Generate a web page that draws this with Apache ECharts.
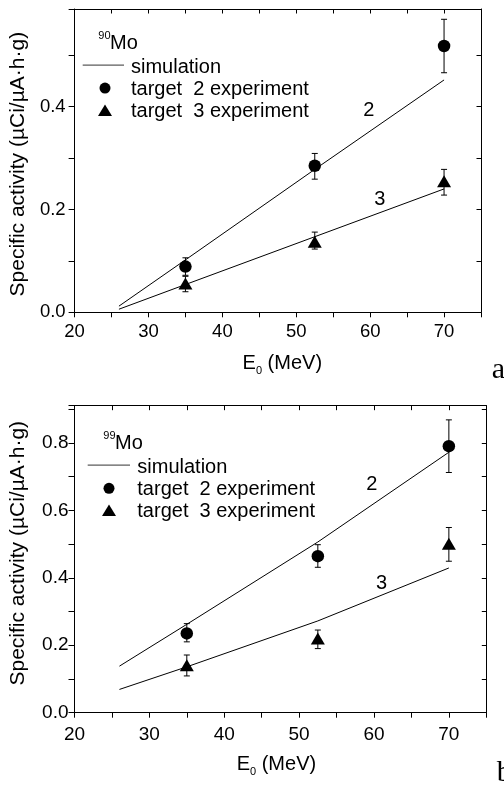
<!DOCTYPE html>
<html><head><meta charset="utf-8">
<script src="https://cdn.jsdelivr.net/npm/echarts@6/dist/echarts.min.js"></script>
<style>html,body{margin:0;padding:0;background:#fff}#c{width:504px;height:787px}</style>
</head><body><div id="c"></div>
<script>
// ---------- data ----------
const energies = [35, 52.5, 70];
const simEnergies = [26, 35, 52.5, 70];
// Panel a (90Mo)
const a_t2 = [0.089, 0.285, 0.518];
const a_t2_lo = [0.072, 0.259, 0.466];
const a_t2_hi = [0.106, 0.309, 0.570];
const a_t3 = [0.056, 0.137, 0.255];
const a_t3_lo = [0.040, 0.123, 0.228];
const a_t3_hi = [0.070, 0.156, 0.278];
const a_sim2 = [0.012, 0.102, 0.278, 0.452];
const a_sim3 = [0.006, 0.054, 0.147, 0.240];
// Panel b (99Mo)
const b_t2 = [0.235, 0.464, 0.790];
const b_t2_lo = [0.210, 0.431, 0.712];
const b_t2_hi = [0.264, 0.498, 0.868];
const b_t3 = [0.141, 0.220, 0.501];
const b_t3_lo = [0.109, 0.190, 0.449];
const b_t3_hi = [0.171, 0.245, 0.549];
const b_sim2 = [0.138, 0.262, 0.506, 0.772];
const b_sim3 = [0.069, 0.136, 0.272, 0.429];
// axis ticks
const xLabelTicks = [20, 30, 40, 50, 60, 70];
const yLabelStep = 0.2;
// curve labels and their anchor (data coords)
const curveLabels = ['2', '3'];
const a_labelPos = [[59.8, 0.392], [61.3, 0.220]];
const b_labelPos = [[59.7, 0.677], [61.0, 0.384]];
const legendTexts = ['simulation', 'target  2 experiment', 'target  3 experiment'];

// ---------- chart ----------
const FONT = '"Liberation Sans", Arial, Helvetica, sans-serif';
const chart = echarts.init(document.getElementById('c'), null, {renderer: 'canvas'});

function xAxes(gi, fs, margin, nameGap, namePad) {
  return [
    {gridIndex: gi, type: 'value', position: 'bottom', min: 20, max: 75, interval: 5,
     axisLine: {show: true, onZero: false, lineStyle: {color: '#000', width: 1}},
     axisTick: {show: true, inside: false, length: 5, lineStyle: {color: '#000'}},
     splitLine: {show: false},
     axisLabel: {show: true, margin: margin, color: '#000', fontSize: fs, fontFamily: FONT,
       formatter: v => xLabelTicks.indexOf(v) >= 0 ? String(v) : ''},
     name: '{n|E}{s|0}{n| (MeV)}', nameLocation: 'middle', nameGap: nameGap,
     nameTextStyle: {padding: namePad, rich: {
       n: {fontSize: 20, fontFamily: FONT, color: '#000', padding: [0, 0, 3, 0], verticalAlign: 'bottom'},
       s: {fontSize: 11, fontFamily: FONT, color: '#000', verticalAlign: 'bottom'}}}},
    {gridIndex: gi, type: 'value', position: 'top', min: 20, max: 75, interval: 5,
     axisLine: {show: true, onZero: false, lineStyle: {color: '#000', width: 1}},
     axisTick: {show: true, inside: true, length: 4.5, lineStyle: {color: '#000'}},
     splitLine: {show: false}, axisLabel: {show: false}}
  ];
}
function yAxes(gi, ymax, fs, margin, nameGap, namePad) {
  return [
    {gridIndex: gi, type: 'value', position: 'left', min: 0, max: ymax, interval: 0.1,
     axisLine: {show: true, onZero: false, lineStyle: {color: '#000', width: 1}},
     axisTick: {show: true, inside: false, length: 6, lineStyle: {color: '#000'}},
     splitLine: {show: false},
     axisLabel: {show: true, margin: margin, color: '#000', fontSize: fs, fontFamily: FONT,
       formatter: v => {const k = v / yLabelStep; return Math.abs(k - Math.round(k)) < 1e-6 ? v.toFixed(1) : '';}},
     name: 'Specific activity (µCi/µA·h·g)', nameLocation: 'middle', nameRotate: 90, nameGap: nameGap,
     nameTextStyle: {fontSize: 21, fontFamily: FONT, color: '#000', padding: namePad}},
    {gridIndex: gi, type: 'value', position: 'right', min: 0, max: ymax, interval: 0.1,
     axisLine: {show: true, onZero: false, lineStyle: {color: '#000', width: 1}},
     axisTick: {show: true, inside: true, length: 4.5, lineStyle: {color: '#000'}},
     splitLine: {show: false}, axisLabel: {show: false}}
  ];
}

function errSeries(xi, yi, xs, lo, hi) {
  return {type: 'custom', xAxisIndex: xi, yAxisIndex: yi, silent: true, z: 2,
    encode: {x: 0, y: [1, 2]},
    data: xs.map((x, i) => [x, lo[i], hi[i]]),
    renderItem(params, api) {
      const p1 = api.coord([api.value(0), api.value(1)]);
      const p2 = api.coord([api.value(0), api.value(2)]);
      const w = 3;
      const st = {stroke: '#000', lineWidth: 1, fill: null};
      return {type: 'group', children: [
        {type: 'line', shape: {x1: p1[0], y1: p1[1], x2: p2[0], y2: p2[1]}, style: st},
        {type: 'line', shape: {x1: p1[0] - w, y1: p1[1], x2: p1[0] + w, y2: p1[1]}, style: st},
        {type: 'line', shape: {x1: p2[0] - w, y1: p2[1], x2: p2[0] + w, y2: p2[1]}, style: st}
      ]};
    }};
}
function pts(xi, yi, xs, ys, symbol, size) {
  return {type: 'scatter', xAxisIndex: xi, yAxisIndex: yi, symbol: symbol, symbolSize: size, z: 3,
    itemStyle: {color: '#000', opacity: 1}, data: xs.map((x, i) => [x, ys[i]])};
}
function simLine(xi, yi, ys) {
  return {type: 'line', xAxisIndex: xi, yAxisIndex: yi, showSymbol: false, symbol: 'none', z: 1,
    lineStyle: {color: '#000', width: 1}, data: simEnergies.map((x, i) => [x, ys[i]])};
}
function curveLabelSeries(xi, yi, pos) {
  return {type: 'custom', xAxisIndex: xi, yAxisIndex: yi, silent: true, z: 4,
    encode: {x: 0, y: 1},
    data: pos.map(p => p.slice()),
    renderItem(params, api) {
      const p = api.coord([api.value(0), api.value(1)]);
      return {type: 'text', x: p[0], y: p[1], style: {text: curveLabels[params.dataIndex],
        fontSize: 20, fontFamily: FONT, fill: '#000', align: 'center', verticalAlign: 'middle'}};
    }};
}

function legendGraphics(x0, yMo, ySim, yT2, yT3, supText, lineX1, lineX2, symX, textX) {
  const tS = {fontSize: 20, fontFamily: FONT, fill: '#000', verticalAlign: 'middle'};
  return [
    {type: 'text', x: x0, y: yMo - 8, style: {text: supText, fontSize: 11, fontFamily: FONT, fill: '#000', verticalAlign: 'middle'}},
    {type: 'text', x: x0 + 11.7, y: yMo, style: Object.assign({text: 'Mo'}, tS)},
    {type: 'line', shape: {x1: lineX1, y1: ySim - 2, x2: lineX2, y2: ySim - 2}, style: {stroke: '#333', lineWidth: 1}},
    {type: 'text', x: textX, y: ySim, style: Object.assign({text: legendTexts[0]}, tS)},
    {type: 'circle', shape: {cx: symX, cy: yT2 - 1.5, r: 5.5}, style: {fill: '#000'}},
    {type: 'text', x: textX, y: yT2, style: Object.assign({text: legendTexts[1]}, tS)},
    {type: 'polygon', shape: {points: [[symX - 7, yT3 + 4.5], [symX + 7, yT3 + 4.5], [symX, yT3 - 7]]}, style: {fill: '#000'}},
    {type: 'text', x: textX, y: yT3, style: Object.assign({text: legendTexts[2]}, tS)}
  ];
}

const option = {
  animation: false,
  backgroundColor: '#fff',
  grid: [
    {left: 74, top: 9, width: 407, height: 303.3, containLabel: false},
    {left: 69.3, top: 405.7, width: 417, height: 307, containLabel: false}
  ],
  xAxis: [...xAxes(0, 18.5, 10, 41, [0, 0, 0, 9]), ...xAxes(1, 19, 12.5, 42, [0, 8, 0, 0])],
  yAxis: [...yAxes(0, 0.59, 18.5, 9, 41, [0, 7, 0, 0]), ...yAxes(1, 0.91, 19, 6, 45.5, [0, 0, 0, 12])],
  series: [
    simLine(0, 0, a_sim2), simLine(0, 0, a_sim3),
    errSeries(0, 0, energies, a_t2_lo, a_t2_hi), errSeries(0, 0, energies, a_t3_lo, a_t3_hi),
    pts(0, 0, energies, a_t2, 'circle', 12.5), pts(0, 0, energies, a_t3, 'triangle', [14, 12]),
    curveLabelSeries(0, 0, a_labelPos),
    simLine(2, 2, b_sim2), simLine(2, 2, b_sim3),
    errSeries(2, 2, energies, b_t2_lo, b_t2_hi), errSeries(2, 2, energies, b_t3_lo, b_t3_hi),
    pts(2, 2, energies, b_t2, 'circle', 12.5), pts(2, 2, energies, b_t3, 'triangle', [14, 12]),
    curveLabelSeries(2, 2, b_labelPos)
  ],
  graphic: [
    ...legendGraphics(98.3, 43.8, 67.1, 89.6, 111.4, '90', 82.7, 124, 105, 131),
    ...legendGraphics(103.3, 443.8, 467.1, 489.8, 511.6, '99', 87.7, 130, 109, 137.3),
    {type: 'text', x: 491.7, y: 369.9, style: {text: 'a', fontSize: 30, fontFamily: '"Liberation Serif", "Times New Roman", serif', fill: '#000', verticalAlign: 'middle'}},
    {type: 'text', x: 496.7, y: 773.2, style: {text: 'b', fontSize: 30, fontFamily: '"Liberation Serif", "Times New Roman", serif', fill: '#000', verticalAlign: 'middle'}}
  ]
};
chart.setOption(option);
</script>
</body></html>
